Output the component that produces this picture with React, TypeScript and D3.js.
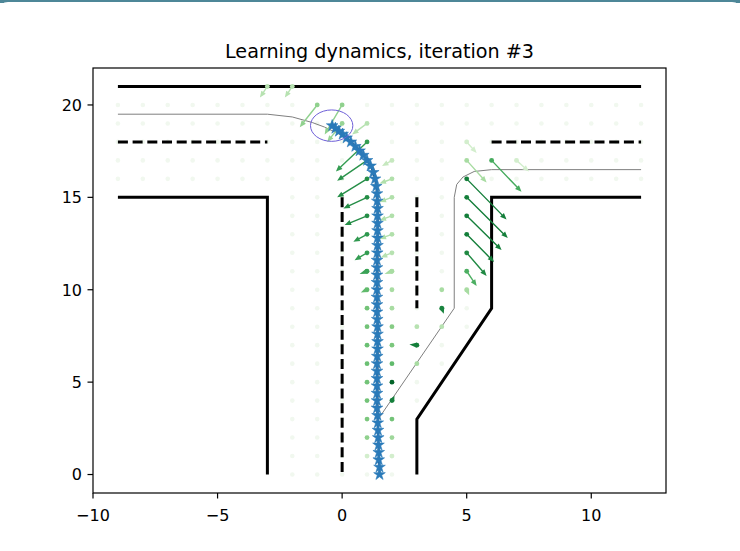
import React from 'react';
import * as d3 from 'd3';

const W = 740;
const H = 551;

const titleText = 'Learning dynamics, iteration #3';
const xTicks = [-10, -5, 0, 5, 10];
const yTicks = [0, 5, 10, 15, 20];

// road edges
const solidWalls: [number, number][][] = [
  [[-9, 21], [12, 21]],
  [[-9, 15], [-3, 15], [-3, 0]],
  [[12, 15], [6, 15], [6, 9], [3, 3], [3, 0]],
];
const dashedWalls: [number, number][][] = [
  [[-9, 18], [-3, 18]],
  [[6, 18], [12, 18]],
  [[0, 15], [0, 0]],
  [[3, 15], [3, 9]],
];

// thin gray reference path
const referencePath: [number, number][] = [
  [-9, 19.5], [-3, 19.5], [-2, 19.35], [-1.2, 19.05], [-0.7, 18.8], [0, 18.35],
  [0.6, 17.75], [1.0, 17.2], [1.3, 16.5], [1.45, 15.5], [1.45, 3], [4.5, 9],
  [4.5, 15], [4.6, 15.7], [4.85, 16.1], [5.3, 16.4], [6, 16.5], [12, 16.5],
];

// learned trajectory (star markers)
const trajectory: [number, number][] = [
  [1.5, 0], [1.5, 0.4], [1.47, 0.8], [1.47, 1.2], [1.46, 1.6], [1.45, 2.0], [1.44, 2.4],
  [1.43, 2.8], [1.42, 3.2], [1.4, 3.6], [1.4, 4.0], [1.4, 4.4], [1.4, 4.8], [1.4, 5.2],
  [1.4, 5.6], [1.4, 6.0], [1.41, 6.4], [1.42, 6.8], [1.42, 7.2], [1.42, 7.6], [1.42, 8.0],
  [1.41, 8.4], [1.4, 8.8], [1.4, 9.2], [1.4, 9.6], [1.4, 10.0], [1.4, 10.4], [1.4, 10.8],
  [1.4, 11.2], [1.4, 11.6], [1.41, 12.0], [1.42, 12.4], [1.42, 12.8], [1.42, 13.2],
  [1.42, 13.6], [1.42, 14.0], [1.42, 14.4], [1.41, 14.8], [1.4, 15.2], [1.37, 15.6],
  [1.32, 16.0], [1.25, 16.35], [1.14, 16.7], [1.0, 17.0], [0.85, 17.28], [0.7, 17.52],
  [0.53, 17.76], [0.35, 18.0], [0.18, 18.22], [0.02, 18.42], [-0.13, 18.58],
  [-0.27, 18.74], [-0.4, 18.88],
];

const goalCircle = { x: -0.42, y: 18.88, r: 0.85 };

// sample grid rows: [y, xMin, xMax]
const gridRows: [number, number, number][] = [
  [20, -9, 12], [19, -9, 12], [18, -9, 12], [17, -9, 12], [16, -9, 12],
  [15, -2, 5], [14, -2, 5], [13, -2, 5], [12, -2, 5], [11, -2, 5], [10, -2, 5],
  [9, -2, 5], [8, -2, 5], [7, -2, 4], [6, -2, 4], [5, -2, 3], [4, -2, 3],
  [3, -2, 2], [2, -2, 2], [1, -2, 2], [0, -2, 2],
];

// quiver: [x, y, u, v, shade]
const arrows: [number, number, number, number, number][] = [
  [-3, 21, -0.3, -0.6, 0.3], [-2, 21, -0.3, -0.6, 0.3],
  [-1, 20, -0.7, -1.2, 0.42], [0, 20, -0.7, -1.6, 0.42], [0, 19, -0.6, -1.0, 0.4],
  [1, 19, -0.6, -0.6, 0.3],
  [1, 18, -1.25, -1.6, 0.68], [1, 17, -1.2, -1.1, 0.72], [1, 16, -1.2, -1.0, 0.74],
  [1, 15, -0.95, -0.6, 0.74], [1, 14, -0.9, -0.5, 0.74], [1, 13, -0.55, -0.4, 0.7],
  [1, 12, -0.5, -0.4, 0.68], [1, 11, -0.3, -0.15, 0.66], [1, 10, -0.25, -0.15, 0.55],
  [1, 9, 0, 0, 0.5], [1, 8, 0, 0, 0.5], [1, 7, 0, 0, 0.52], [1, 6, 0, 0, 0.52],
  [1, 5, 0, 0, 0.5], [1, 4, 0, 0, 0.5], [1, 3, 0, 0, 0.48], [1, 2, 0, 0, 0.42],
  [1, 1, 0, 0, 0.2],
  [2, 17, -0.4, -0.3, 0.25], [2, 16, -0.5, -0.25, 0.32], [2, 15, -0.5, -0.25, 0.32],
  [2, 14, -0.5, -0.25, 0.32], [2, 13, -0.5, -0.25, 0.32], [2, 12, -0.45, -0.25, 0.3],
  [2, 11, -0.3, -0.15, 0.35], [2, 10, 0, 0, 0.35], [2, 9, 0, 0, 0.35], [2, 8, 0, 0, 0.45],
  [2, 7, 0, 0, 0.48], [2, 6, 0, 0, 0.55], [2, 5, 0, 0, 0.9], [2, 4, 0.1, 0.25, 0.8],
  [2, 3, 0, 0, 0.5], [2, 2, 0, 0, 0.38], [2, 1, 0, 0, 0.2],
  [3, 8, 0, 0, 0.3], [3, 7, -0.3, 0.03, 0.8], [3, 6, 0, 0, 0.35],
  [4, 10, 0, 0, 0.35], [4, 9, 0.08, -0.3, 0.78], [4, 8, 0, 0, 0.3],
  [5, 18, 0.4, -0.6, 0.2], [7, 17, 0.5, -0.6, 0.2],
  [5, 17, 0.8, -1.2, 0.35], [6, 17, 1.2, -1.7, 0.62],
  [5, 16, 1.6, -2.2, 0.8], [5, 15, 1.65, -2.2, 0.8], [5, 14, 1.4, -1.85, 0.8],
  [5, 13, 1.1, -1.5, 0.8], [5, 12, 0.8, -1.25, 0.76], [5, 11, 0.4, -0.8, 0.6],
  [5, 10, 0.1, -0.3, 0.35],
];

const x = d3.scaleLinear().domain([-10, 13]).range([93, 666]);
const y = d3.scaleLinear().domain([-1, 22]).range([493, 68]);

const pathLine = d3.line<[number, number]>().x((d) => x(d[0])).y((d) => y(d[1]));

function arrowPolygon(px: number, py: number, dx: number, dy: number) {
  const L = Math.hypot(dx, dy);
  const ux = dx / L;
  const uy = dy / L;
  const nx = -uy;
  const ny = ux;
  // short vectors are drawn as head only (leaf shape)
  const hl = L < 10 ? L : 6.5;
  const hw = L < 10 ? 2.6 : 2.7;
  const sw = 0.7;
  const bx = px + ux * (L - hl);
  const by = py + uy * (L - hl);
  const pts = [
    [px + nx * sw, py + ny * sw],
    [bx + nx * sw, by + ny * sw],
    [bx + nx * hw, by + ny * hw],
    [px + dx, py + dy],
    [bx - nx * hw, by - ny * hw],
    [bx - nx * sw, by - ny * sw],
    [px - nx * sw, py - ny * sw],
  ];
  return pts.map((p) => p.join(',')).join(' ');
}

const fmt = (v: number) => (v < 0 ? '\u2212' + Math.abs(v) : String(v));

const App: React.FC = () => {
  const gridPts: [number, number][] = [];
  gridRows.forEach(([gy, x0, x1]) => {
    for (let gx = x0; gx <= x1; gx++) gridPts.push([gx, gy]);
  });
  const star = d3.symbol().type(d3.symbolStar).size(42)() as string;

  return (
    <svg
      width={W}
      height={H}
      style={{ position: 'absolute', left: 0, top: 0, fontFamily: 'DejaVu Sans' }}
    >
      <rect x={0} y={0} width={W} height={H} fill="#fff" />
      <rect x={0} y={0} width={W} height={3} fill="#4e8798" />
      <path d={`M0,10 Q0,2 8,2 L${W - 8},2 Q${W},2 ${W},10 Z`} fill="#fff" />

      <text x={(93 + 666) / 2} y={58} textAnchor="middle" fontSize={19.2} fill="#000">
        {titleText}
      </text>

      {/* background sample points */}
      {gridPts.map(([gx, gy], i) => (
        <circle key={'g' + i} cx={x(gx)} cy={y(gy)} r={2.3} fill="#f1f8ef" />
      ))}

      {solidWalls.map((w, i) => (
        <path key={'s' + i} d={pathLine(w) as string} fill="none" stroke="#000" strokeWidth={3} />
      ))}
      {dashedWalls.map((w, i) => (
        <path
          key={'d' + i}
          d={pathLine(w) as string}
          fill="none"
          stroke="#000"
          strokeWidth={3}
          strokeDasharray="10,4.7"
        />
      ))}

      <path d={pathLine(referencePath) as string} fill="none" stroke="#7f7f7f" strokeWidth={1} />

      {arrows.map(([ax, ay, u, v, s], i) => {
        const c = d3.interpolateGreens(s);
        const px = x(ax);
        const py = y(ay);
        const dx = x(ax + u) - px;
        const dy = y(ay + v) - py;
        return (
          <g key={'a' + i}>
            <circle cx={px} cy={py} r={2.4} fill={c} />
            {(u !== 0 || v !== 0) && <polygon points={arrowPolygon(px, py, dx, dy)} fill={c} />}
          </g>
        );
      })}

      <path d={pathLine(trajectory) as string} fill="none" stroke="#1f4a78" strokeWidth={2} />
      {trajectory.map(([tx, ty], i) => (
        <path
          key={'t' + i}
          d={star}
          transform={`translate(${x(tx)},${y(ty)})`}
          fill="#2a7ab9"
          stroke="#2a7ab9"
          strokeWidth={0.6}
        />
      ))}

      <ellipse
        cx={x(goalCircle.x)}
        cy={y(goalCircle.y)}
        rx={x(goalCircle.x + goalCircle.r) - x(goalCircle.x)}
        ry={y(goalCircle.y) - y(goalCircle.y + goalCircle.r)}
        fill="none"
        stroke="#6e5fd8"
        strokeWidth={1}
      />

      {/* frame */}
      <rect x={93} y={68} width={666 - 93} height={493 - 68} fill="none" stroke="#000" strokeWidth={1.2} />

      {xTicks.map((t) => (
        <g key={'xt' + t}>
          <line x1={x(t)} x2={x(t)} y1={493} y2={498.5} stroke="#000" strokeWidth={1.2} />
          <text x={x(t)} y={521} textAnchor="middle" fontSize={16} fill="#000">
            {fmt(t)}
          </text>
        </g>
      ))}
      {yTicks.map((t) => (
        <g key={'yt' + t}>
          <line x1={87.5} x2={93} y1={y(t)} y2={y(t)} stroke="#000" strokeWidth={1.2} />
          <text x={82} y={y(t) + 5.8} textAnchor="end" fontSize={16} fill="#000">
            {fmt(t)}
          </text>
        </g>
      ))}
    </svg>
  );
};

export default App;
